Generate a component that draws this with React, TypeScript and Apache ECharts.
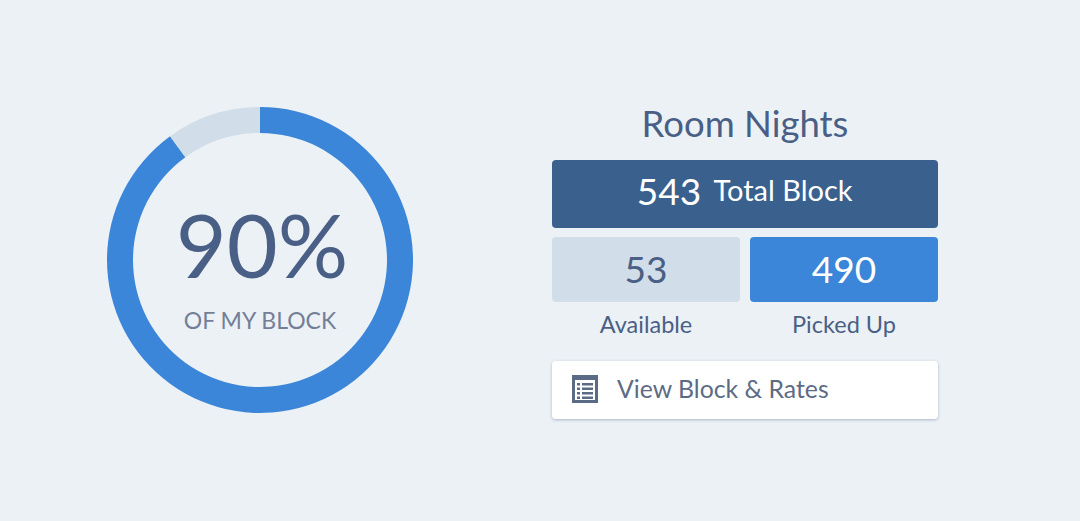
import React, { useEffect, useRef } from "react";
import * as echarts from "echarts";

const ringNames = ["Picked Up", "Available"];
const ringValues = [90, 10];
const ringColors = ["#3b86d8", "#d1dde8"];
const percentLabel = "90%";
const percentCaption = "OF MY BLOCK";
const panelTitle = "Room Nights";
const totalValue = "543";
const totalLabel = "Total Block";
const availableValue = "53";
const pickedValue = "490";
const buttonLabel = "View Block & Rates";

const FONT = "Lato";
const INK = "#4a5f85";

function text(x: number, y: number, t: string, size: number, fill: string, align = "center") {
  return {
    type: "text",
    x,
    y,
    silent: true,
    style: { text: t, fontSize: size, fontFamily: FONT, fill, align, verticalAlign: "middle", fontWeight: 400 },
  };
}
function box(x: number, y: number, w: number, h: number, fill: string, extra: any = {}) {
  return { type: "rect", shape: { x, y, width: w, height: h, r: 4 }, silent: true, style: { fill, ...extra } };
}
function plain(x: number, y: number, w: number, h: number, fill: string) {
  return { type: "rect", shape: { x, y, width: w, height: h }, silent: true, style: { fill } };
}

export default function App() {
  const ref = useRef<HTMLDivElement>(null);
  useEffect(() => {
    document.body.style.margin = "0";
    const chart = echarts.init(ref.current!, undefined, { renderer: "svg" });
    const icon = "#5a6b86";
    const iconRows = [383, 387.5, 392, 396.5].flatMap((y) => [plain(577, y, 3, 2.5, icon), plain(582, y, 11, 2.5, icon)]);
    chart.setOption({
      animation: false,
      backgroundColor: "#ecf1f6",
      series: [
        {
          type: "pie",
          center: [260, 260],
          radius: [127, 153],
          startAngle: 90,
          clockwise: true,
          silent: true,
          label: { show: false },
          labelLine: { show: false },
          data: ringNames.map((name, i) => ({ name, value: ringValues[i], itemStyle: { color: ringColors[i] } })),
        },
      ],
      graphic: [
        text(262, 244, percentLabel, 88, INK),
        text(260, 320, percentCaption, 23, "#737f97"),
        text(745, 123, panelTitle, 36.5, INK),
        box(552, 160, 386, 68, "#3a618e"),
        text(669, 190, totalValue, 37, "#ffffff"),
        text(783, 189, totalLabel, 29, "#ffffff"),
        box(552, 237, 188, 65, "#d1dde8"),
        box(750, 237, 188, 65, "#3b86d8"),
        text(646, 268, availableValue, 37, INK),
        text(844, 268, pickedValue, 37, "#ffffff"),
        text(646, 324, ringNames[1], 23.5, INK),
        text(844, 324, ringNames[0], 23.5, INK),
        box(552, 361, 386, 58, "#ffffff", { shadowBlur: 3, shadowColor: "rgba(90,105,130,0.45)", shadowOffsetY: 1 }),
        plain(572, 375, 26, 28, icon),
        plain(575, 380, 20, 20, "#ffffff"),
        ...iconRows,
        text(617, 388, buttonLabel, 24.8, "#5d6b85", "left"),
      ],
    });
    return () => chart.dispose();
  }, []);
  return <div ref={ref} style={{ width: 1080, height: 521 }} />;
}
